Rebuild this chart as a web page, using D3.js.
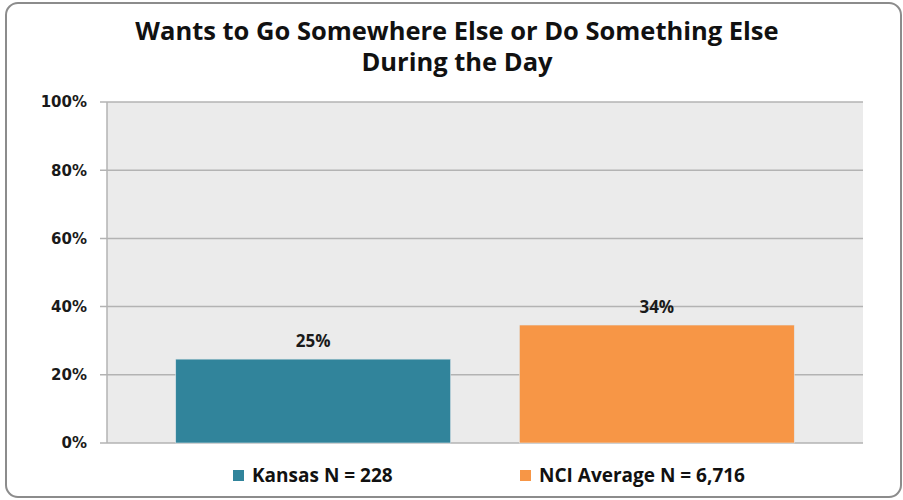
<!DOCTYPE html>
<html><head><meta charset="utf-8">
<script src="https://cdn.jsdelivr.net/npm/d3@7"></script>
<style>body{margin:0;background:#fff}svg{display:block}</style>
</head><body>
<script>
const titleLines = ["Wants to Go Somewhere Else or Do Something Else", "During the Day"];
const series = ["Kansas N = 228", "NCI Average N = 6,716"];
const values = [0.246, 0.346];
const valueLabels = ["25%", "34%"];
const colors = ["#31849b", "#f79646"];
const yTicks = [0, 0.2, 0.4, 0.6, 0.8, 1.0];

const W = 903, H = 500;
const svg = d3.select("body").append("svg").attr("width", W).attr("height", H);

svg.append("rect").attr("x", 6).attr("y", 3).attr("width", 895).attr("height", 494)
  .attr("rx", 12).attr("fill", "#fff").attr("stroke", "#8c8c8c").attr("stroke-width", 2);

const m = {l: 107, r: 863, t: 102, b: 443};
const x = d3.scaleBand().domain(series).range([m.l, m.r]).paddingInner(0.2).paddingOuter(0.2);
const y = d3.scaleLinear().domain([0, 1]).range([m.b, m.t]);

svg.append("rect").attr("x", m.l).attr("y", m.t).attr("width", m.r - m.l).attr("height", m.b - m.t).attr("fill", "#ebebeb");

svg.append("g").selectAll("line").data(yTicks).join("line")
  .attr("x1", m.l - 7).attr("x2", m.r).attr("y1", d => y(d)).attr("y2", d => y(d))
  .attr("stroke", "#b3b3b3").attr("stroke-width", 1.5);
svg.append("line").attr("x1", m.l).attr("x2", m.l).attr("y1", m.t).attr("y2", m.b)
  .attr("stroke", "#b3b3b3").attr("stroke-width", 1.5);

svg.append("g").selectAll("text").data(yTicks).join("text")
  .attr("x", 87).attr("y", d => y(d)).attr("dy", "0.36em").attr("text-anchor", "end")
  .attr("font-family", "DejaVu Sans").attr("font-weight", "bold").attr("font-size", 15).attr("fill", "#1a1a1a")
  .text(d => d3.format(".0%")(d));

svg.append("g").selectAll("rect").data(values).join("rect")
  .attr("x", (d, i) => x(series[i])).attr("width", x.bandwidth())
  .attr("y", d => y(d)).attr("height", d => y(0) - y(d))
  .attr("fill", (d, i) => colors[i]).attr("stroke", "#dfe6ea").attr("stroke-width", 0.6);

svg.append("g").selectAll("text").data(values).join("text")
  .attr("x", (d, i) => x(series[i]) + x.bandwidth() / 2).attr("y", d => y(d) - 12)
  .attr("text-anchor", "middle").attr("font-family", "Open Sans").attr("font-weight", "bold")
  .attr("font-size", 17).attr("fill", "#1a1a1a").text((d, i) => valueLabels[i]);

svg.append("g").selectAll("text").data(titleLines).join("text")
  .attr("x", 457).attr("y", (d, i) => 40 + i * 31).attr("text-anchor", "middle")
  .attr("font-family", "Open Sans").attr("font-weight", "bold").attr("font-size", 25.5).attr("fill", "#111")
  .text(d => d);

const legX = [233, 520];
const lg = svg.append("g").selectAll("g").data(series).join("g")
  .attr("transform", (d, i) => `translate(${legX[i]},470)`);
lg.append("rect").attr("width", 11).attr("height", 11).attr("fill", (d, i) => colors[i]);
lg.append("text").attr("x", 19).attr("y", 11.5).attr("font-family", "Open Sans").attr("font-weight", "bold")
  .attr("font-size", 19).attr("fill", "#111").text(d => d);
</script>
</body></html>
